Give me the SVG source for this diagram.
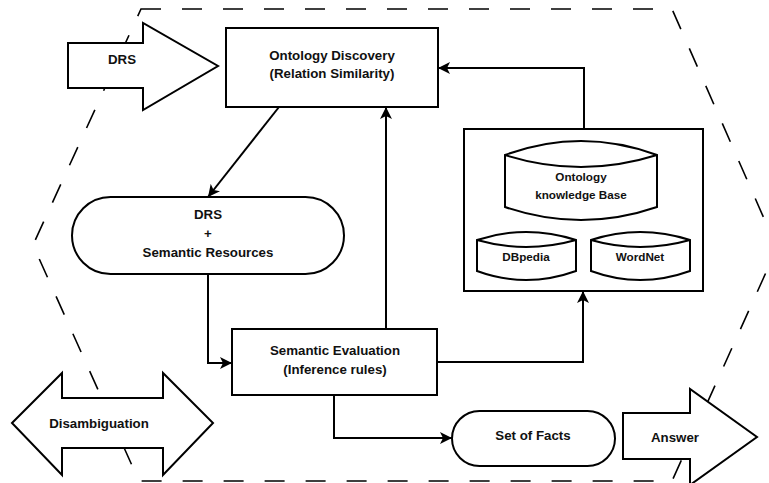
<svg xmlns="http://www.w3.org/2000/svg" width="769" height="483" viewBox="0 0 769 483">
<defs>
<style>
.frame{fill:none;stroke:#000;stroke-width:1.6;stroke-dasharray:20 21}
.shape{fill:#fff;stroke:#000;stroke-width:2}
.conn{fill:none;stroke:#000;stroke-width:2}
.t{font-family:"Liberation Sans",Arial,sans-serif;font-weight:bold;font-size:13.3px;fill:#111;text-anchor:middle}
.s{font-size:11.7px}
</style>
<marker id="ah" markerUnits="userSpaceOnUse" markerWidth="14" markerHeight="12" refX="12" refY="6" orient="auto">
<path d="M0,0 L12,6 L0,12 L3,6 Z" fill="#000"/>
</marker>
</defs>
<rect width="769" height="483" fill="#fff"/>
<g id="frame">
<path class="frame" d="M141,9 L672,9 L777,248 L672,481 L139,481 L33,245 Z"/>
</g>
<g id="drs-input">
<path class="shape" d="M68,43 H143 V23 L218,66 L143,110 V88 H68 Z"/>
<text class="t" x="122" y="64">DRS</text>
</g>
<g id="disambiguation">
<path class="shape" d="M12,423 L62,373 V398 H163 V373 L213,423 L163,475 V448 H62 V475 Z"/>
<text class="t" x="99" y="428">Disambiguation</text>
</g>
<g id="answer">
<path class="shape" d="M623,413 H690 V389 L757,437 L690,485 V459 H623 Z"/>
<text class="t" x="675" y="442">Answer</text>
</g>
<g id="ontology-discovery">
<rect class="shape" x="226" y="28" width="212" height="79"/>
<text class="t" x="332" y="60">Ontology Discovery</text>
<text class="t" x="332" y="78">(Relation Similarity)</text>
</g>
<g id="drs-semantic-resources">
<rect class="shape" x="72" y="197" width="272" height="77" rx="38.5" ry="38.5"/>
<text class="t" x="208" y="219">DRS</text>
<text class="t" x="208" y="238">+</text>
<text class="t" x="208" y="257">Semantic Resources</text>
</g>
<g id="semantic-evaluation">
<rect class="shape" x="232" y="329" width="205" height="66"/>
<text class="t" x="335" y="355">Semantic Evaluation</text>
<text class="t" x="335" y="374">(Inference rules)</text>
</g>
<g id="set-of-facts">
<rect class="shape" x="452" y="411" width="163" height="55" rx="27.5" ry="27.5"/>
<text class="t" x="533" y="440">Set of Facts</text>
</g>
<g id="knowledge-sources">
<rect class="shape" x="464" y="129" width="239" height="162"/>
</g>
<g id="ontology-kb">
<path class="shape" d="M505,155 Q581,127 657,155 V207 Q581,233 505,207 Z"/>
<path class="conn" d="M505,155 Q581,179 657,155"/>
<text class="t s" x="581" y="181">Ontology</text>
<text class="t s" x="581" y="199">knowledge Base</text>
</g>
<g id="dbpedia">
<path class="shape" d="M477,240 Q526,224 576,240 V271 Q526,289 477,271 Z"/>
<path class="conn" d="M477,240 Q526,254 576,240"/>
<text class="t s" x="526" y="261">DBpedia</text>
</g>
<g id="wordnet">
<path class="shape" d="M591,240 Q640,224 690,240 V271 Q640,289 591,271 Z"/>
<path class="conn" d="M591,240 Q640,254 690,240"/>
<text class="t s" x="640" y="261">WordNet</text>
</g>
<g id="connectors">
<path class="conn" d="M279,107 L208,197" marker-end="url(#ah)"/>
<path class="conn" d="M208,274 V363 H232" marker-end="url(#ah)"/>
<path class="conn" d="M386,329 V107" marker-end="url(#ah)"/>
<path class="conn" d="M584,129 V68 H438" marker-end="url(#ah)"/>
<path class="conn" d="M437,362 H583 V291" marker-end="url(#ah)"/>
<path class="conn" d="M334,395 V438 H452" marker-end="url(#ah)"/>
</g>
</svg>
